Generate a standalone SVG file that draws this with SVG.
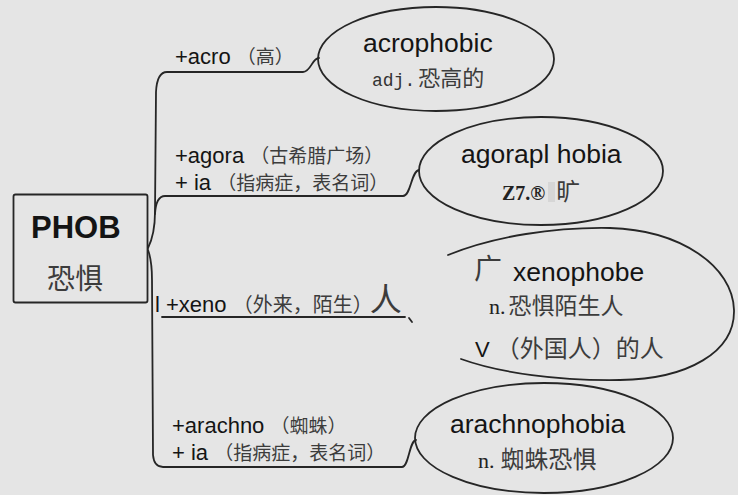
<svg xmlns="http://www.w3.org/2000/svg" width="738" height="495" viewBox="0 0 738 495">
<style>
.ln{fill:none;stroke:#262626;stroke-width:1.8;stroke-linecap:round}
.lat{font-family:"Liberation Sans",Arial,sans-serif;fill:#141414}
.cjk{font-family:"Noto Sans CJK SC","Noto Sans",sans-serif;fill:#3c3c3c}
.lab{font-size:22px}
.labc{font-size:19px}
.head{font-size:26.5px}
.ser{font-family:"Liberation Serif","Times New Roman",serif;fill:#222}
.mono{font-family:"Liberation Mono","Courier New",monospace;fill:#333}
</style>
<rect width="738" height="495" fill="#e5e5e5"/>

<g id="connectors">
  <path class="ln" d="M148,248 C152,240 155,228 155,212 L156,92 Q157,72 167,72 L303,72 C311,72 312,58 319,58"/>
  <path class="ln" d="M155,214 Q156,196 165,196 L403,196 C411,196 411,171 419,170"/>
  <path class="ln" d="M148,250 C151,258 152,268 152,280 L153,455 Q154,467 163,467 L402,467 C409,467 409,441 416,440"/>
  <line class="ln" x1="162" y1="317" x2="405" y2="317" stroke-width="1.5"/>
  <path class="ln" d="M409,318 L412,322" stroke-width="1.3"/>
</g>

<g id="phob">
  <rect x="13.5" y="194.5" width="134" height="108" rx="2" fill="none" stroke="#262626" stroke-width="1.8"/>
  <text class="lat" x="31" y="238" font-size="31" font-weight="bold">PHOB</text>
  <text class="cjk" x="47" y="289" font-size="28" fill="#222">恐惧</text>
</g>

<g id="label-acro">
  <text x="175" y="64"><tspan class="lat lab">+acro </tspan><tspan class="cjk labc">（高）</tspan></text>
</g>
<g id="label-agora">
  <text x="175" y="163"><tspan class="lat lab">+agora </tspan><tspan class="cjk labc">（古希腊广场）</tspan></text>
  <text x="175" y="190"><tspan class="lat lab">+ ia </tspan><tspan class="cjk labc">（指病症，表名词）</tspan></text>
</g>
<g id="label-xeno">
  <text x="155" y="312"><tspan class="lat lab">l +xeno </tspan><tspan class="cjk" font-size="20">（外来，陌生）</tspan><tspan class="cjk" font-size="32" fill="#111" dx="-3" dy="-1">人</tspan></text>
</g>
<g id="label-arachno">
  <text x="172" y="433"><tspan class="lat lab">+arachno </tspan><tspan class="cjk labc">（蜘蛛）</tspan></text>
  <text x="172" y="460"><tspan class="lat lab">+ ia </tspan><tspan class="cjk labc">（指病症，表名词）</tspan></text>
</g>

<g id="node-acrophobic">
  <ellipse cx="436" cy="59" rx="118" ry="52" class="ln"/>
  <text class="lat head" x="363" y="52">acrophobic</text>
  <text x="372" y="86"><tspan class="mono" font-size="18">adj.</tspan><tspan class="cjk" font-size="22" dx="3">恐高的</tspan></text>
</g>

<g id="node-agoraphobia">
  <ellipse cx="541" cy="171" rx="122" ry="54" class="ln"/>
  <text class="lat head" x="461" y="163">agorapl hobia</text>
  <rect x="548" y="182" width="7" height="20" fill="#cccccc" opacity="0.6"/>
  <text x="502" y="200"><tspan class="ser" font-size="20" font-weight="bold" fill="#111">Z7.®</tspan><tspan class="cjk" font-size="24" fill="#222" dx="11">旷</tspan></text>
</g>

<g id="node-xenophobe">
  <path class="ln" d="M448,255 C495,236 555,227 610,228 C680,230 733,266 734,310 C735,352 688,379 620,380 C558,381 500,373 461,359"/>
  <text class="cjk" x="474" y="279" font-size="28" fill="#222">广</text>
  <text class="lat head" x="513" y="281">xenophobe</text>
  <text x="489" y="314"><tspan class="ser" font-size="22">n.</tspan><tspan class="cjk" font-size="23" dx="3">恐惧陌生人</tspan></text>
  <text x="475" y="357"><tspan class="lat" font-size="22">V </tspan><tspan class="cjk" font-size="24">（外国人）的人</tspan></text>
</g>

<g id="node-arachnophobia">
  <ellipse cx="544" cy="438" rx="129" ry="55" class="ln"/>
  <text class="lat head" x="450" y="433">arachnophobia</text>
  <text x="478" y="468"><tspan class="ser" font-size="22">n.</tspan><tspan class="cjk" font-size="24" dx="6">蜘蛛恐惧</tspan></text>
</g>
</svg>
